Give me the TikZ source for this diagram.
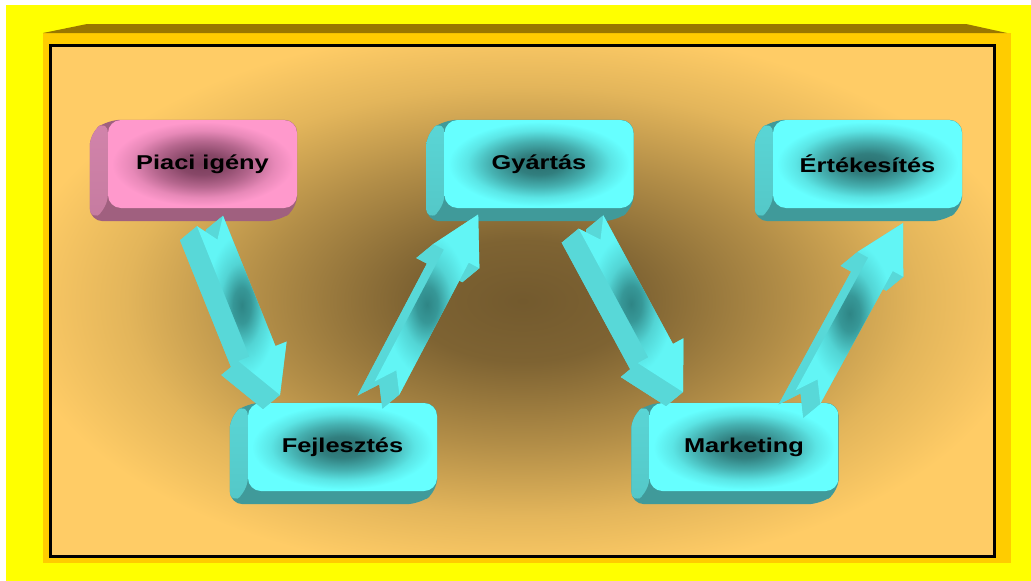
\documentclass[tikz,border=0pt]{standalone}
\usepackage{fontspec}
\setmainfont{Liberation Sans}
\usepackage{graphicx}
\usetikzlibrary{calc}
\pgfdeclarelayer{back}
\pgfdeclarelayer{ext}
\pgfdeclarelayer{front}
\pgfsetlayers{back,ext,main,front}
\definecolor{ybg}{HTML}{FFFF00}
\definecolor{gold}{HTML}{FFCC00}
\definecolor{bevel}{HTML}{997700}
\definecolor{panellt}{HTML}{FFCC66}
\definecolor{paneldk}{HTML}{735A2E}
\definecolor{cyanlt}{HTML}{66FFFF}
\definecolor{cyandk}{HTML}{2B7070}
\definecolor{cyanside}{HTML}{5AD6D6}
\definecolor{cyanbot}{HTML}{409A9A}
\definecolor{pinklt}{HTML}{FF99CC}
\definecolor{pinkdk}{HTML}{7A3E5C}
\definecolor{pinkside}{HTML}{D284AB}
\definecolor{pinkbot}{HTML}{A0607F}
\definecolor{arrside}{HTML}{58D8D8}
\definecolor{arrdk}{HTML}{2E8585}
\pgfdeclareradialshading{panelglow}{\pgfpoint{0bp}{0bp}}{color(0bp)=(paneldk); color(6bp)=(paneldk!92!panellt); color(14bp)=(paneldk!55!panellt); color(21bp)=(paneldk!20!panellt); color(27bp)=(panellt); color(50bp)=(panellt)}
\pgfdeclareradialshading{cyanglow}{\pgfpoint{0bp}{0bp}}{color(0bp)=(cyandk); color(6bp)=(cyandk!90!cyanlt); color(13bp)=(cyandk!55!cyanlt); color(19bp)=(cyandk!18!cyanlt); color(24bp)=(cyanlt); color(50bp)=(cyanlt)}
\pgfdeclareradialshading{pinkglow}{\pgfpoint{0bp}{0bp}}{color(0bp)=(pinkdk); color(6bp)=(pinkdk!90!pinklt); color(13bp)=(pinkdk!55!pinklt); color(19bp)=(pinkdk!18!pinklt); color(24bp)=(pinklt); color(50bp)=(pinklt)}
\pgfdeclareradialshading{arrowglow}{\pgfpoint{0bp}{0bp}}{color(0bp)=(arrdk); color(5bp)=(arrdk!85!cyanlt); color(12bp)=(arrdk!35!cyanlt); color(20bp)=(cyanlt!92!arrdk); color(50bp)=(cyanlt!92!arrdk)}
\tikzset{
  boxnode/.style={minimum width=189pt, minimum height=88pt, inner sep=0pt,
    rounded corners=13pt, font=\fontsize{20pt}{24pt}\selectfont\bfseries, text=black},
  cyanbox/.style={boxnode, shade, shading=cyanglow},
  pinkbox/.style={boxnode, shade, shading=pinkglow}
}
\newcommand\boxext[4]{% node, side top, side bottom, bottom
  \fill[#4, rounded corners=13pt] (#1.north west) -- (#1.north east) -- (#1.south east)
    -- ($(#1.south east)+(-18,13)$) -- ($(#1.south west)+(-18,13)$) -- ($(#1.north west)+(-18,13)$) -- cycle;
  \shade[top color=#2, bottom color=#3, rounded corners=13pt] (#1.north west) -- (#1.south west)
    -- ($(#1.south west)+(-18,13)$) -- ($(#1.north west)+(-18,13)$) -- cycle;
}
\newcommand\blockarrow[4]{% name, tail, angle, length
  \begin{scope}[shift={#2}, rotate=#3]
    \coordinate (#1-1) at (0,-14);
    \coordinate (#1-2) at (20,0);
    \coordinate (#1-3) at (0,14);
    \coordinate (#1-4) at (#4-47,14);
    \coordinate (#1-5) at (#4-47,26);
    \coordinate (#1-6) at (#4,0);
    \coordinate (#1-7) at (#4-47,-26);
    \coordinate (#1-8) at (#4-47,-14);
  \end{scope}
  \fill[arrside] ($(#1-1)+(-17,14)$) -- ($(#1-2)+(-17,14)$) -- ($(#1-3)+(-17,14)$) -- ($(#1-4)+(-17,14)$)
    -- ($(#1-5)+(-17,14)$) -- ($(#1-6)+(-17,14)$) -- ($(#1-7)+(-17,14)$) -- ($(#1-8)+(-17,14)$) -- cycle;
  \foreach \i/\j in {1/2,2/3,3/4,4/5,5/6,6/7,7/8,8/1}{
    \fill[arrside] (#1-\i) -- (#1-\j) -- ($(#1-\j)+(-17,14)$) -- ($(#1-\i)+(-17,14)$) -- cycle;
  }
  \shade[shading=arrowglow] (#1-1) -- (#1-2) -- (#1-3) -- (#1-4) -- (#1-5) -- (#1-6) -- (#1-7) -- (#1-8) -- cycle;
}
\begin{document}
\begin{tikzpicture}[x=1pt, y=-1pt]
\useasboundingbox (0,0) rectangle (1031,581);
\begin{pgfonlayer}{back}
  \fill[ybg] (6,5) rectangle (1031,581);
  \fill[gold] (43,33) rectangle (1011,563);
  \fill[bevel] (43,33) -- (87,24) -- (966,24) -- (1007,33) -- cycle;
  \shade[shading=panelglow] (50.5,45.5) rectangle (994.5,556.5);
  \draw[line width=3pt, black] (50.5,45.5) rectangle (994.5,556.5);
\end{pgfonlayer}

\node[pinkbox] (pi) at (202.5,164) {\scalebox{1.27}[1]{Piaci igény}};
\node[cyanbox] (gy) at (539,164) {\scalebox{1.27}[1]{Gyártás}};
\node[cyanbox] (er) at (867.5,164) {\scalebox{1.27}[1]{Értékesítés}};
\node[cyanbox] (fe) at (342.5,447) {\scalebox{1.27}[1]{Fejlesztés}};
\node[cyanbox] (ma) at (744,447) {\scalebox{1.27}[1]{Marketing}};

\begin{pgfonlayer}{ext}
  \boxext{pi}{pinkside}{pinkside!75!pinkbot}{pinkbot}
  \boxext{gy}{cyanside}{cyanside!75!cyanbot}{cyanbot}
  \boxext{er}{cyanside}{cyanside!75!cyanbot}{cyanbot}
  \boxext{fe}{cyanside}{cyanside!75!cyanbot}{cyanbot}
  \boxext{ma}{cyanside}{cyanside!75!cyanbot}{cyanbot}
\end{pgfonlayer}

\begin{pgfonlayer}{front}
  \blockarrow{a1}{(210,221)}{-68.08}{187.5}
  \blockarrow{a2}{(387,388)}{62.27}{196}
  \blockarrow{a3}{(591,222)}{-61.58}{193.3}
  \blockarrow{a4}{(808,397)}{61.36}{198.2}
\end{pgfonlayer}
\end{tikzpicture}
\end{document}
